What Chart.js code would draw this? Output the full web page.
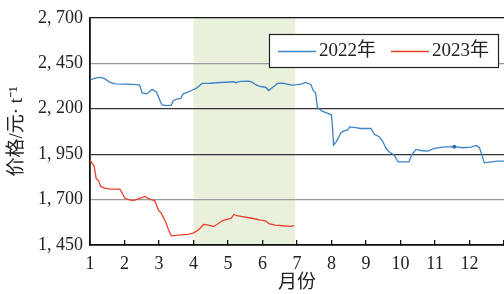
<!DOCTYPE html>
<html>
<head>
<meta charset="utf-8">
<script src="https://cdn.jsdelivr.net/npm/chart.js@4.4.1/dist/chart.umd.min.js"></script>
<style>
  html, body { margin: 0; padding: 0; background: #fff; }
  #wrap { width: 504px; height: 294px; }
</style>
</head>
<body>
<div id="wrap"><canvas id="priceChart"></canvas></div>
<script>
// Month positions (1 = start of Jan) and prices
const months2022 = [1.02, 1.18, 1.33, 1.43, 1.57, 1.72, 2.25, 2.44, 2.51, 2.64, 2.74, 2.80, 2.93, 3.03, 3.09, 3.22, 3.36, 3.41, 3.51, 3.63, 3.70, 3.83, 3.94, 4.09, 4.12, 4.25, 4.49, 4.78, 5.17, 5.22, 5.36, 5.60, 5.70, 5.80, 5.94, 6.09, 6.18, 6.28, 6.44, 6.57, 6.72, 6.86, 7.01, 7.15, 7.25, 7.40, 7.47, 7.54, 7.59, 7.64, 7.74, 7.88, 8.00, 8.03, 8.06, 8.12, 8.19, 8.27, 8.36, 8.46, 8.53, 8.70, 8.85, 9.14, 9.24, 9.38, 9.48, 9.58, 9.67, 9.82, 9.92, 9.96, 10.24, 10.33, 10.45, 10.59, 10.79, 10.98, 11.22, 11.56, 11.80, 12.05, 12.19, 12.29, 12.37, 12.43, 12.63, 12.82, 13.0];
const prices2022 = [2360, 2369, 2372, 2364, 2346, 2336, 2334, 2330, 2287, 2282, 2296, 2306, 2291, 2244, 2221, 2217, 2219, 2244, 2252, 2257, 2282, 2291, 2300, 2313, 2318, 2339, 2340, 2344, 2348, 2343, 2350, 2352, 2346, 2332, 2322, 2318, 2300, 2315, 2339, 2340, 2335, 2330, 2332, 2337, 2344, 2333, 2300, 2287, 2207, 2198, 2185, 2176, 2165, 2096, 2000, 2013, 2035, 2068, 2078, 2082, 2100, 2096, 2091, 2091, 2059, 2046, 2022, 1982, 1963, 1944, 1911, 1907, 1907, 1948, 1976, 1970, 1967, 1982, 1989, 1991, 1985, 1989, 1998, 1985, 1939, 1902, 1907, 1911, 1911];

const months2023 = [1.0, 1.12, 1.18, 1.25, 1.31, 1.43, 1.57, 1.86, 1.91, 2.01, 2.15, 2.25, 2.40, 2.59, 2.69, 2.88, 2.98, 3.07, 3.19, 3.27, 3.36, 3.56, 3.85, 3.99, 4.09, 4.20, 4.29, 4.44, 4.57, 4.68, 4.83, 4.97, 5.09, 5.17, 5.26, 5.41, 5.60, 5.80, 5.94, 6.09, 6.18, 6.37, 6.57, 6.81, 6.91];
const prices2023 = [1917, 1883, 1815, 1804, 1772, 1763, 1757, 1757, 1744, 1707, 1698, 1694, 1704, 1717, 1707, 1693, 1643, 1624, 1578, 1537, 1500, 1504, 1509, 1515, 1526, 1544, 1563, 1559, 1552, 1563, 1583, 1591, 1596, 1618, 1611, 1606, 1600, 1593, 1587, 1583, 1568, 1559, 1556, 1552, 1556];

const seriesLabels = ['2022年', '2023年'];
const yTicks = [1450, 1700, 1950, 2200, 2450, 2700];
const shadeRange = [4, 6.95]; // highlighted months

const FONT = "'Liberation Serif', 'Noto Sans CJK SC', serif";

function toPoints(xs, ys) {
    return xs.map((x, i) => ({ x: x, y: ys[i] }));
}

function fmt(v) {
    const s = String(v);
    return s.slice(0, 1) + ', ' + s.slice(1);
}

// Light green band behind the grid
const shadePlugin = {
    id: 'shade',
    beforeDraw(chart) {
        const { ctx, chartArea, scales } = chart;
        const x0 = scales.x.getPixelForValue(shadeRange[0]);
        const x1 = scales.x.getPixelForValue(shadeRange[1]);
        ctx.save();
        ctx.fillStyle = '#e9f1dc';
        ctx.fillRect(x0, chartArea.top, x1 - x0, chartArea.bottom - chartArea.top);
        ctx.restore();
    }
};

// Boxed legend inside the plot, top right
const legendBox = {
    id: 'legendBox',
    afterDraw(chart) {
        const ctx = chart.ctx;
        const left = 269, top = 34, w = 229, h = 33;
        ctx.save();
        ctx.fillStyle = '#fff';
        ctx.fillRect(left, top, w, h);
        ctx.strokeStyle = '#222';
        ctx.lineWidth = 1.2;
        ctx.strokeRect(left + 0.5, top + 0.5, w, h);
        ctx.font = '19px ' + FONT;
        ctx.textBaseline = 'middle';
        ctx.fillStyle = '#222';
        const cy = top + 17.5;
        const starts = [278, 391];
        chart.data.datasets.forEach((ds, i) => {
            const sx = starts[i];
            ctx.strokeStyle = ds.borderColor;
            ctx.lineWidth = 1.3;
            ctx.beginPath();
            ctx.moveTo(sx, cy);
            ctx.lineTo(sx + 38, cy);
            ctx.stroke();
            ctx.fillText(ds.label, sx + 41, cy);
        });
        ctx.restore();
    }
};

new Chart(document.getElementById('priceChart').getContext('2d'), {
    type: 'line',
    data: {
        datasets: [
            {
                label: seriesLabels[0],
                data: toPoints(months2022, prices2022),
                borderColor: '#3d84c6',
                borderWidth: 1.3,
                pointRadius: ctx => (months2022[ctx.dataIndex] === 11.56 ? 2 : 0),
                pointBackgroundColor: '#2f6fb0',
                pointBorderWidth: 0,
                tension: 0
            },
            {
                label: seriesLabels[1],
                data: toPoints(months2023, prices2023),
                borderColor: '#e8412f',
                borderWidth: 1.3,
                pointRadius: 0,
                tension: 0
            }
        ]
    },
    options: {
        responsive: true,
        maintainAspectRatio: false,
        animation: false,
        layout: { padding: { top: 8, right: 0, left: 0, bottom: 0 } },
        plugins: {
            legend: { display: false },
            tooltip: { enabled: false }
        },
        scales: {
            x: {
                type: 'linear',
                min: 1,
                max: 13,
                afterFit(scale) {
                    scale.height = 49;
                    scale.paddingLeft = 0;
                    scale.paddingRight = 0;
                },
                ticks: {
                    stepSize: 1,
                    padding: 13,
                    color: '#222',
                    font: { family: FONT, size: 18 },
                    maxRotation: 0,
                    autoSkip: false,
                    callback: v => (v === 13 ? '' : v)
                },
                grid: {
                    drawOnChartArea: false,
                    drawTicks: true,
                    tickLength: -5,
                    color: '#111',
                    lineWidth: 1.3
                },
                border: { color: '#111', width: 1.8 },
                title: {
                    display: true,
                    text: '月份',
                    color: '#222',
                    font: { family: FONT, size: 19 },
                    padding: { top: 0, bottom: 0 }
                }
            },
            y: {
                min: 1450,
                max: 2700,
                afterFit(scale) { scale.width = 90; },
                afterBuildTicks(scale) { scale.ticks = yTicks.map(v => ({ value: v })); },
                ticks: {
                    padding: 7,
                    color: '#222',
                    font: { family: FONT, size: 18 },
                    callback: v => fmt(v)
                },
                grid: {
                    drawTicks: false,
                    lineWidth: 1.2,
                    color: ctx => {
                        const v = ctx.tick && ctx.tick.value;
                        if (v === 2700) return '#111';
                        if (v === 2200 || v === 1950) return '#333';
                        return '#999';
                    }
                },
                border: { color: '#111', width: 1.8 },
                title: {
                    display: true,
                    text: '价格/元· t⁻¹',
                    color: '#222',
                    font: { family: FONT, size: 19 },
                    padding: { top: 6, bottom: 0 }
                }
            }
        }
    },
    plugins: [shadePlugin, legendBox]
});
</script>
</body>
</html>
